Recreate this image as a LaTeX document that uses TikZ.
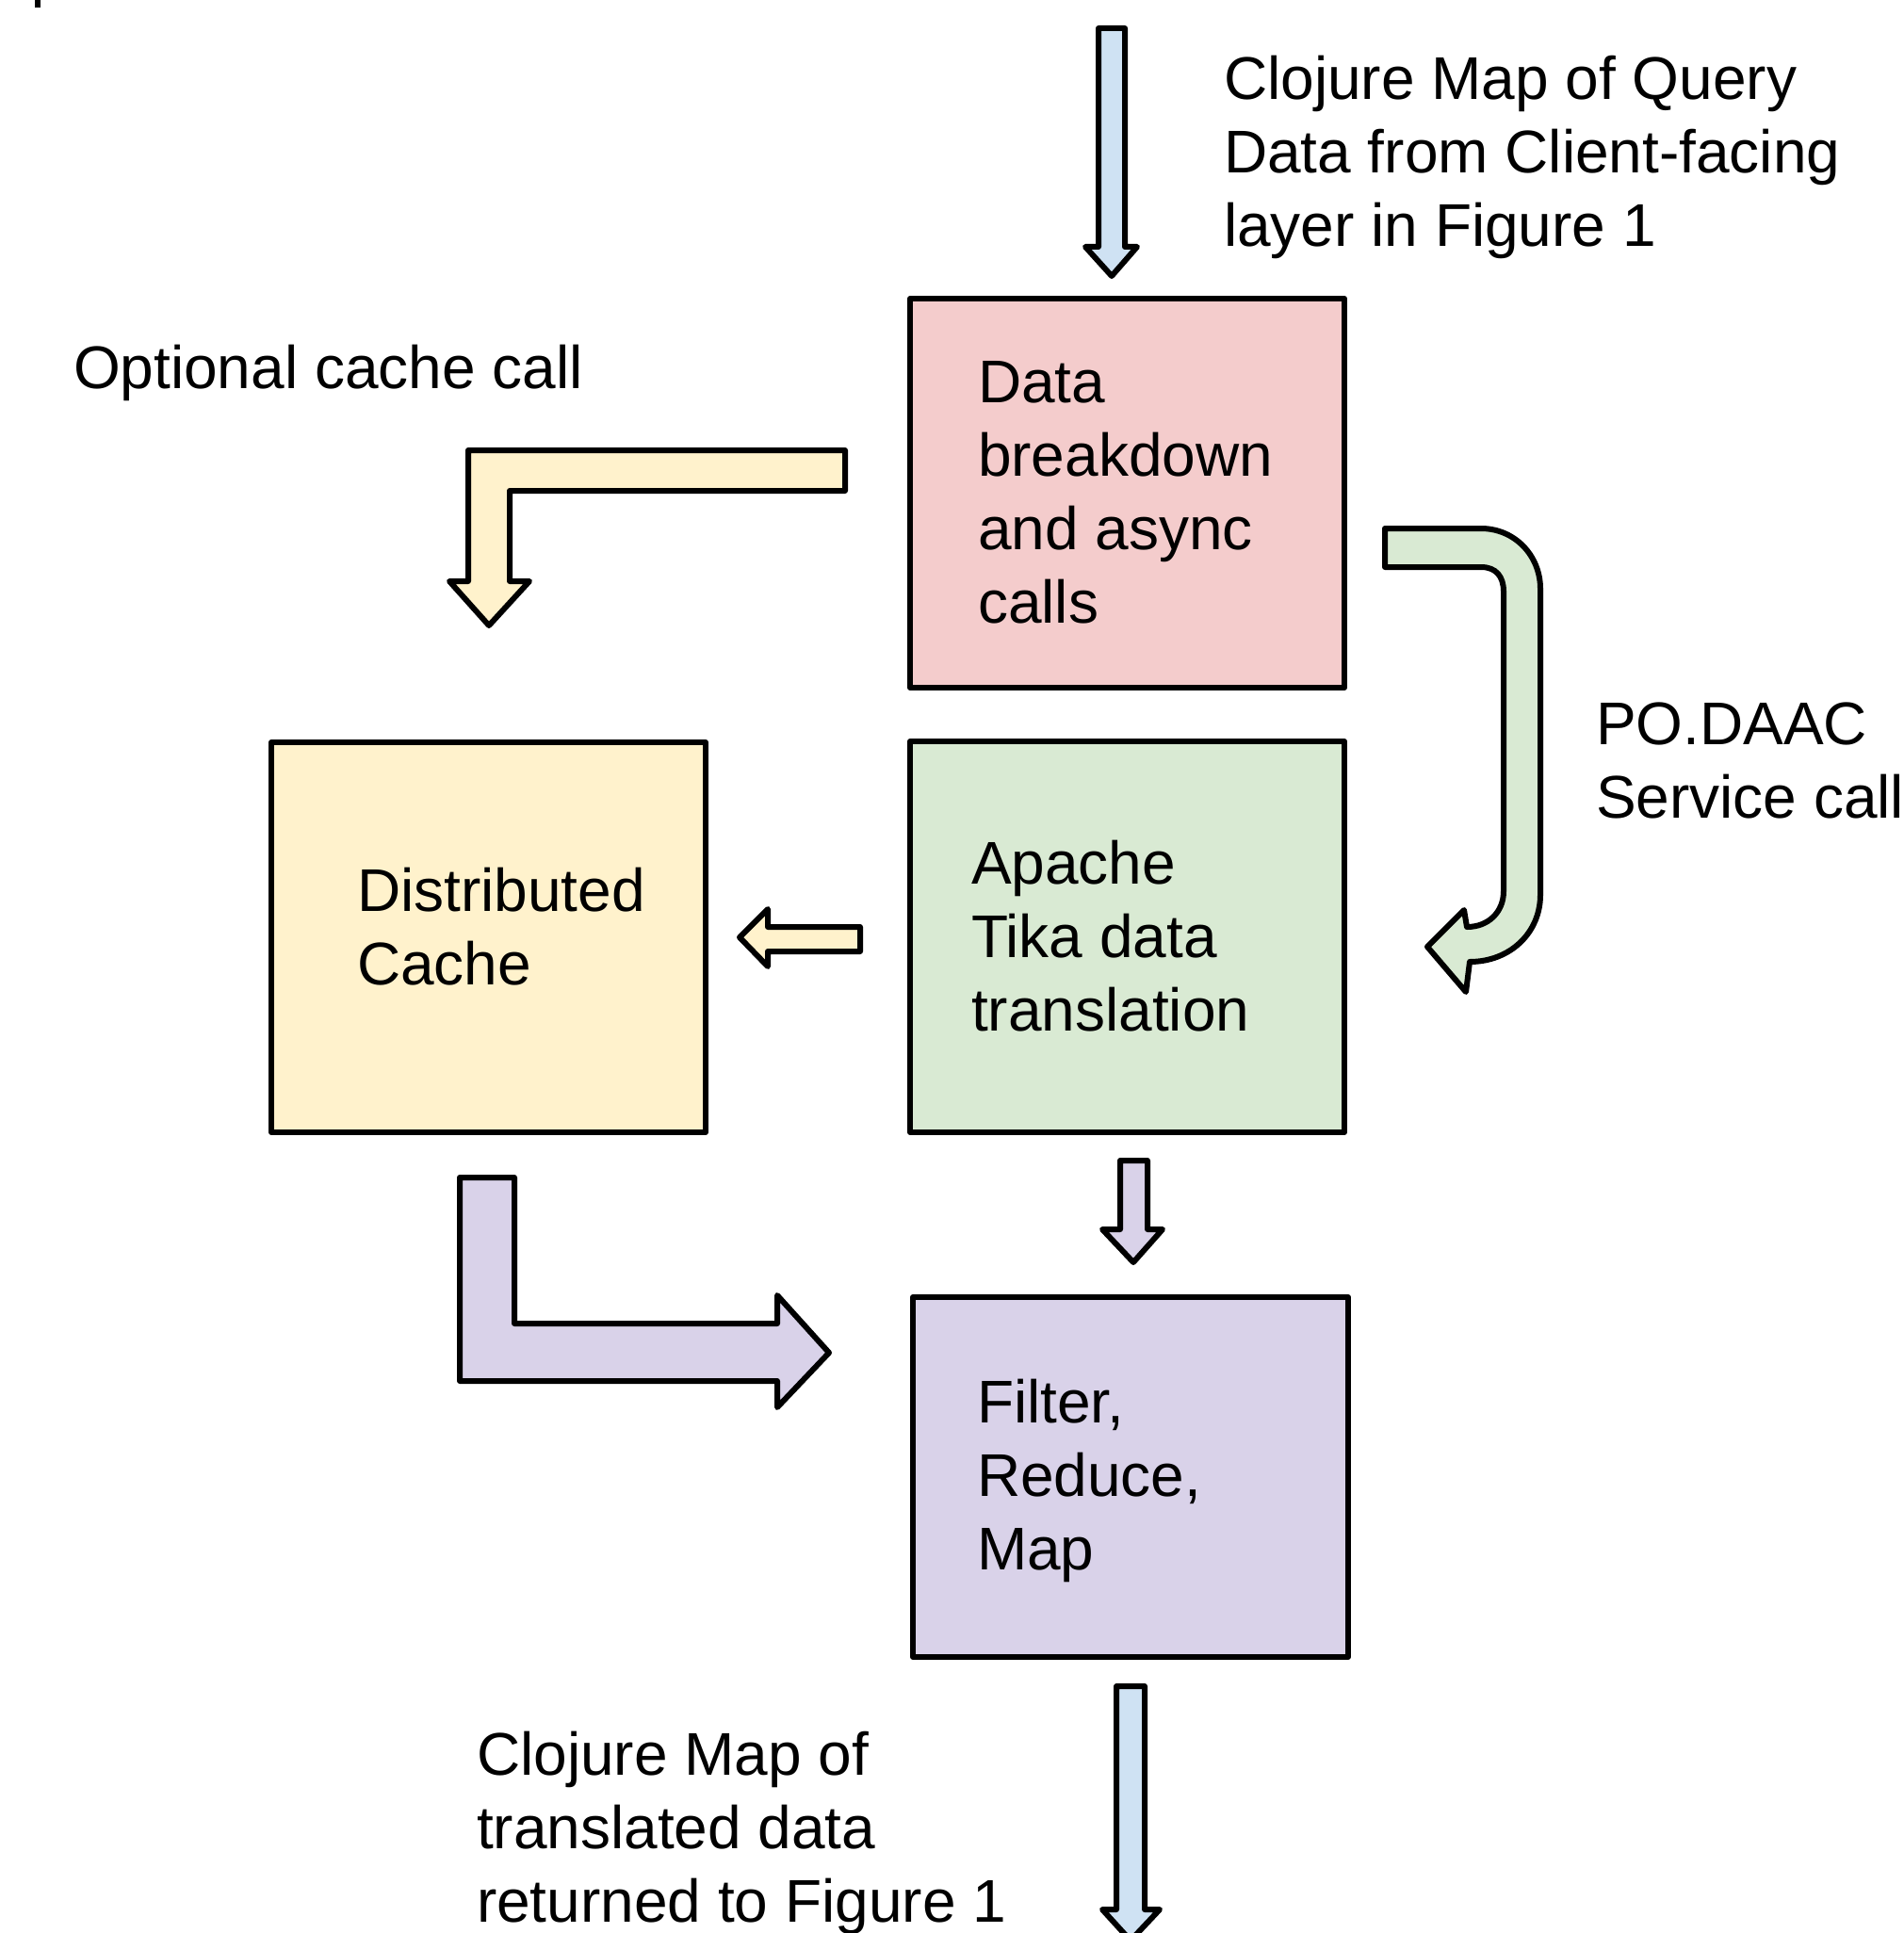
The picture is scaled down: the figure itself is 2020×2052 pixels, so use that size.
\documentclass[tikz,border=0pt]{standalone}
\usepackage{fontspec}
\setmainfont{Liberation Sans}
\definecolor{pinkf}{HTML}{F4CCCC}
\definecolor{greenf}{HTML}{D9EAD3}
\definecolor{yellowf}{HTML}{FFF2CC}
\definecolor{purplef}{HTML}{D9D2E9}
\definecolor{bluef}{HTML}{CFE2F3}
\newcommand\mylines[1]{\vtop{\baselineskip=78pt\lineskip=0pt\lineskiplimit=-1000pt\halign{##\hfil\cr#1\crcr}}}
\begin{document}
\begin{tikzpicture}[x=1pt,y=-1pt,
  box/.style={draw=black, line width=6pt, rectangle, inner sep=0pt, outer sep=0pt, anchor=north west, line join=round},
  blockarrow/.style={draw=black, line width=6pt, line join=round},
  lbl/.style={anchor=base west, inner sep=0pt, outer sep=0pt, font=\fontsize{64}{78}\selectfont, text=black}]
\useasboundingbox (0,0) rectangle (2020,2052);
\clip (0,0) rectangle (2020,2052);
\fill[white] (0,0) rectangle (2020,2052);
% small mark top-left
\fill[black] (37,0) rectangle (43,8);

% boxes
\node[box, fill=pinkf,   minimum width=461pt, minimum height=413pt] (breakdown) at (966,317) {};
\node[box, fill=greenf,  minimum width=461pt, minimum height=415pt] (tika) at (966,787) {};
\node[box, fill=yellowf, minimum width=461pt, minimum height=414pt] (cache) at (288,788) {};
\node[box, fill=purplef, minimum width=462pt, minimum height=382pt] (filter) at (969,1377) {};

% box texts
\node[lbl] (breakdowntxt) at (1038,427) {\mylines{Data\cr breakdown\cr and async\cr calls}};
\node[lbl] (tikatxt) at (1031,938) {\mylines{Apache\cr Tika data\cr translation}};
\node[lbl] (cachetxt) at (379,967) {\mylines{Distributed\cr Cache}};
\node[lbl] (filtertxt) at (1037,1510) {\mylines{Filter,\cr Reduce,\cr Map}};

% free labels
\node[lbl] (intxt) at (1299,106) {\mylines{Clojure Map of Query\cr Data from Client-facing\cr layer in Figure 1}};
\node[lbl] (opttxt) at (78,412) {\mylines{Optional cache call}};
\node[lbl] (podaactxt) at (1694,790) {\mylines{PO.DAAC\cr Service call}};
\node[lbl] (outtxt) at (506,1884) {\mylines{Clojure Map of\cr translated data\cr returned to Figure 1}};

% top input arrow (blue)
\draw[blockarrow, fill=bluef] (1166,30) -- (1194,30) -- (1194,262) -- (1207,262) -- (1180,293) -- (1152,262) -- (1166,262) -- cycle;

% optional cache call arrow (yellow, bent)
\draw[blockarrow, fill=yellowf] (897,478) -- (497,478) -- (497,617) -- (477,617) -- (519,664) -- (562,617) -- (541,617) -- (541,521) -- (897,521) -- cycle;

% PO.DAAC service call arrow (green, curved)
\draw[blockarrow, fill=greenf] (1470,561) -- (1572,561)
  .. controls (1608,561) and (1635,590) .. (1635,625) -- (1635,950)
  .. controls (1635,990) and (1603,1021) .. (1560,1021)
  -- (1556,1053) -- (1515,1005) -- (1554,966) -- (1557,984)
  .. controls (1580,984) and (1596,968) .. (1596,946) -- (1596,628)
  .. controls (1596,612) and (1588,602) .. (1572,602) -- (1470,602) -- cycle;

% tika -> cache (yellow small left arrow)
\draw[blockarrow, fill=yellowf] (913,984) -- (815,984) -- (815,965) -- (785,995) -- (815,1026) -- (815,1010) -- (913,1010) -- cycle;

% cache -> filter (purple bent arrow)
\draw[blockarrow, fill=purplef] (488,1250) -- (546,1250) -- (546,1405) -- (825,1405) -- (825,1375) -- (880,1436) -- (825,1494) -- (825,1466) -- (488,1466) -- cycle;

% tika -> filter (purple small down arrow)
\draw[blockarrow, fill=purplef] (1189,1232) -- (1218,1232) -- (1218,1305) -- (1234,1305) -- (1203,1340) -- (1170,1305) -- (1189,1305) -- cycle;

% output arrow (blue)
\draw[blockarrow, fill=bluef] (1185,1790) -- (1215,1790) -- (1215,2027) -- (1231,2027) -- (1200,2060) -- (1170,2027) -- (1185,2027) -- cycle;
\end{tikzpicture}
\end{document}
